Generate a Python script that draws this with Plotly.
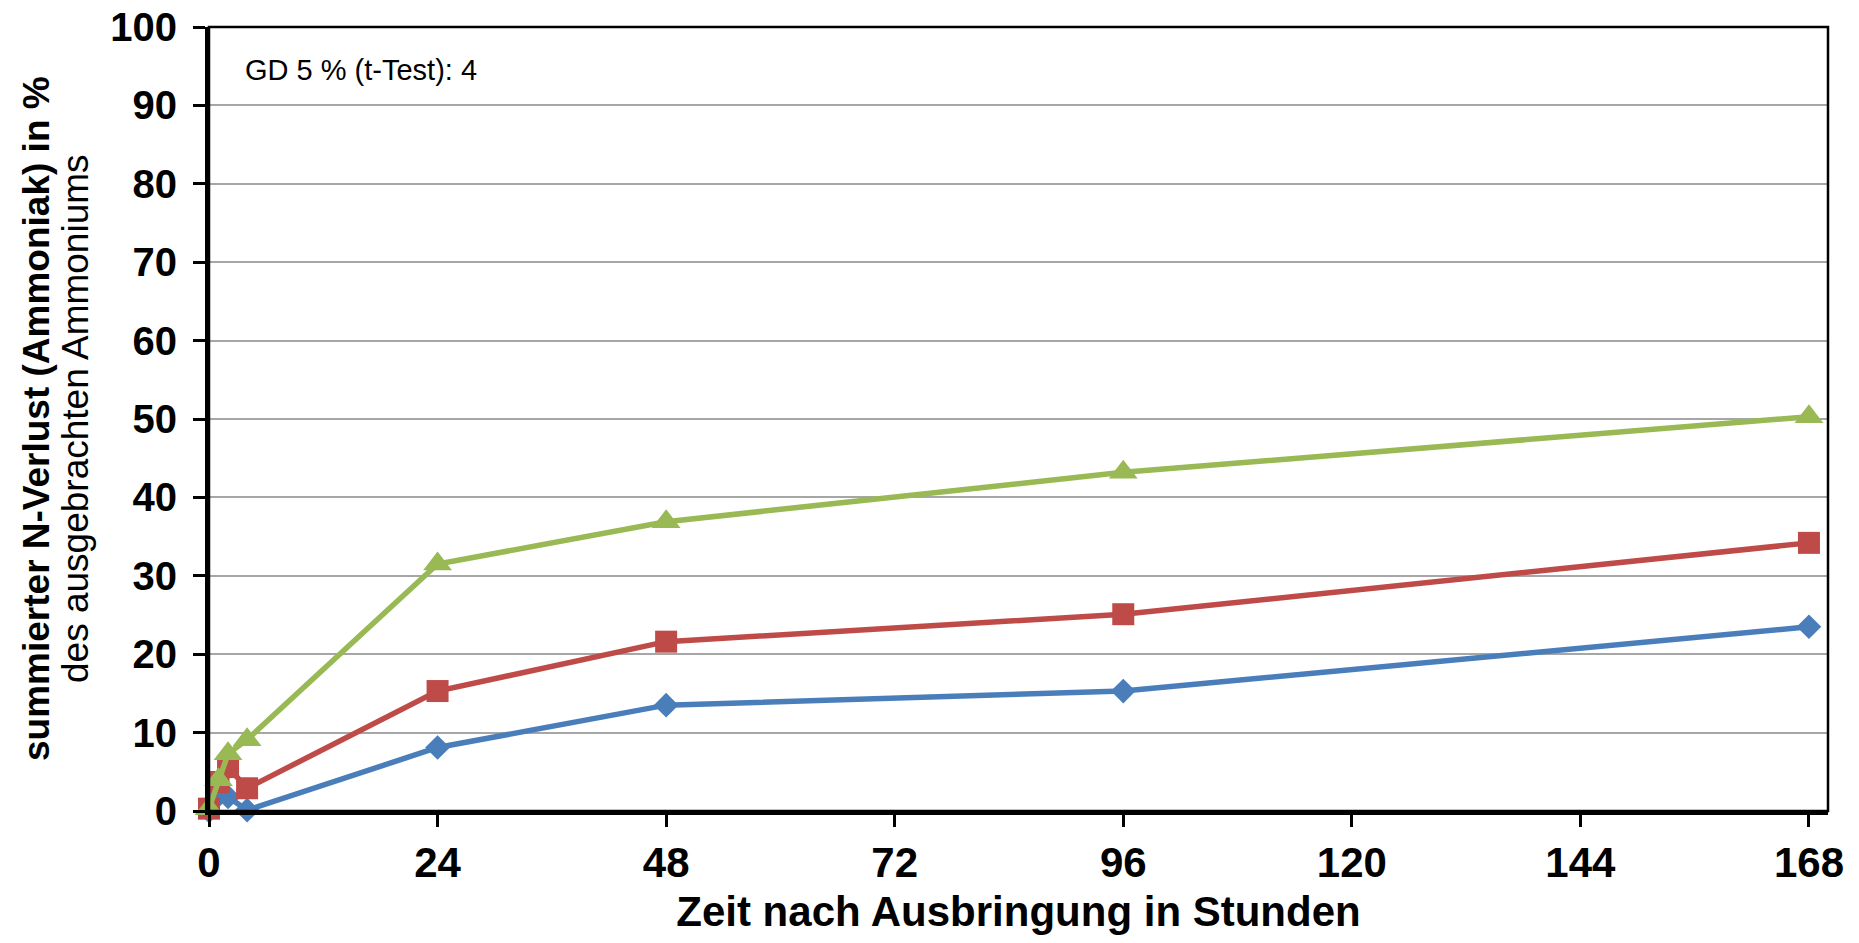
import plotly.graph_objects as go

hours = [0, 1, 2, 4, 24, 48, 96, 168]
series_blue = [0.0, 2.0, 1.8, 0.1, 8.1, 13.5, 15.3, 23.5]
series_red = [0.3, 3.7, 5.6, 2.9, 15.3, 21.6, 25.1, 34.2]
series_green = [0.3, 4.0, 7.3, 9.1, 31.5, 36.9, 43.2, 50.3]

x_ticks = [0, 24, 48, 72, 96, 120, 144, 168]
y_ticks = [0, 10, 20, 30, 40, 50, 60, 70, 80, 90, 100]

x_title = "Zeit nach Ausbringung in Stunden"
y_title_1 = "summierter N-Verlust (Ammoniak) in %"
y_title_2 = "des ausgebrachten Ammoniums"
note = "GD 5 % (t-Test): 4"

FONT = "Liberation Sans, Arial, sans-serif"

fig = go.Figure()
styles = [
    (series_blue, "#4A7EBB", "diamond", 19),
    (series_red, "#BE4B48", "square", 22),
    (series_green, "#98B954", "triangle-up", 25),
]
for vals, col, sym, sz in styles:
    fig.add_trace(go.Scatter(
        x=hours, y=vals, mode="lines+markers",
        line=dict(color=col, width=5.5),
        marker=dict(symbol=sym, size=sz, color=col, line=dict(width=0)),
        cliponaxis=False, showlegend=False, hoverinfo="skip",
    ))

fig.update_layout(
    width=1859, height=943,
    margin=dict(l=209, r=31, t=27, b=132, autoexpand=False),
    paper_bgcolor="white", plot_bgcolor="white",
    font=dict(family=FONT, color="black"),
)
fig.update_xaxes(
    range=[0, 170], tickvals=x_ticks, ticktext=[str(v) for v in x_ticks],
    showgrid=False, zeroline=False, automargin=False,
    showline=True, linecolor="black", linewidth=4,
    ticks="outside", ticklen=12, tickwidth=3, tickcolor="black",
    ticklabeloverflow="allow",
    tickfont=dict(family=FONT, size=42, color="black", weight="bold"),
    title=dict(text="<b>" + x_title + "</b>", font=dict(family=FONT, size=42, color="black"), standoff=12),
)
fig.update_yaxes(
    range=[0, 100], tickvals=y_ticks, ticktext=[str(v) for v in y_ticks],
    showgrid=True, gridcolor="#A6A6A6", gridwidth=2, zeroline=False, automargin=False,
    showline=True, linecolor="black", linewidth=4,
    ticks="outside", ticklen=12, tickwidth=3, tickcolor="black",
    ticklabelstandoff=8, ticklabeloverflow="allow",
    tickfont=dict(family=FONT, size=40, color="black", weight="bold"),
)
fig.add_shape(type="rect", xref="paper", yref="paper", x0=0, y0=0, x1=1, y1=1,
              line=dict(color="black", width=2.5), layer="above")
fig.add_annotation(text="<b>" + y_title_1 + "</b>", xref="paper", yref="paper",
                   x=0, y=0.5, xshift=-173, xanchor="center", yanchor="middle",
                   textangle=-90, showarrow=False,
                   font=dict(family=FONT, size=37, color="black"))
fig.add_annotation(text=y_title_2, xref="paper", yref="paper",
                   x=0, y=0.5, xshift=-134, xanchor="center", yanchor="middle",
                   textangle=-90, showarrow=False,
                   font=dict(family=FONT, size=37, color="black"))
fig.add_annotation(text=note, xref="paper", yref="paper", x=0.021, y=0.945,
                   xanchor="left", yanchor="middle", showarrow=False,
                   font=dict(family=FONT, size=29, color="black"))

fig.write_html("out.html", config={"displayModeBar": False},
               post_script="document.body.style.margin='0';")
